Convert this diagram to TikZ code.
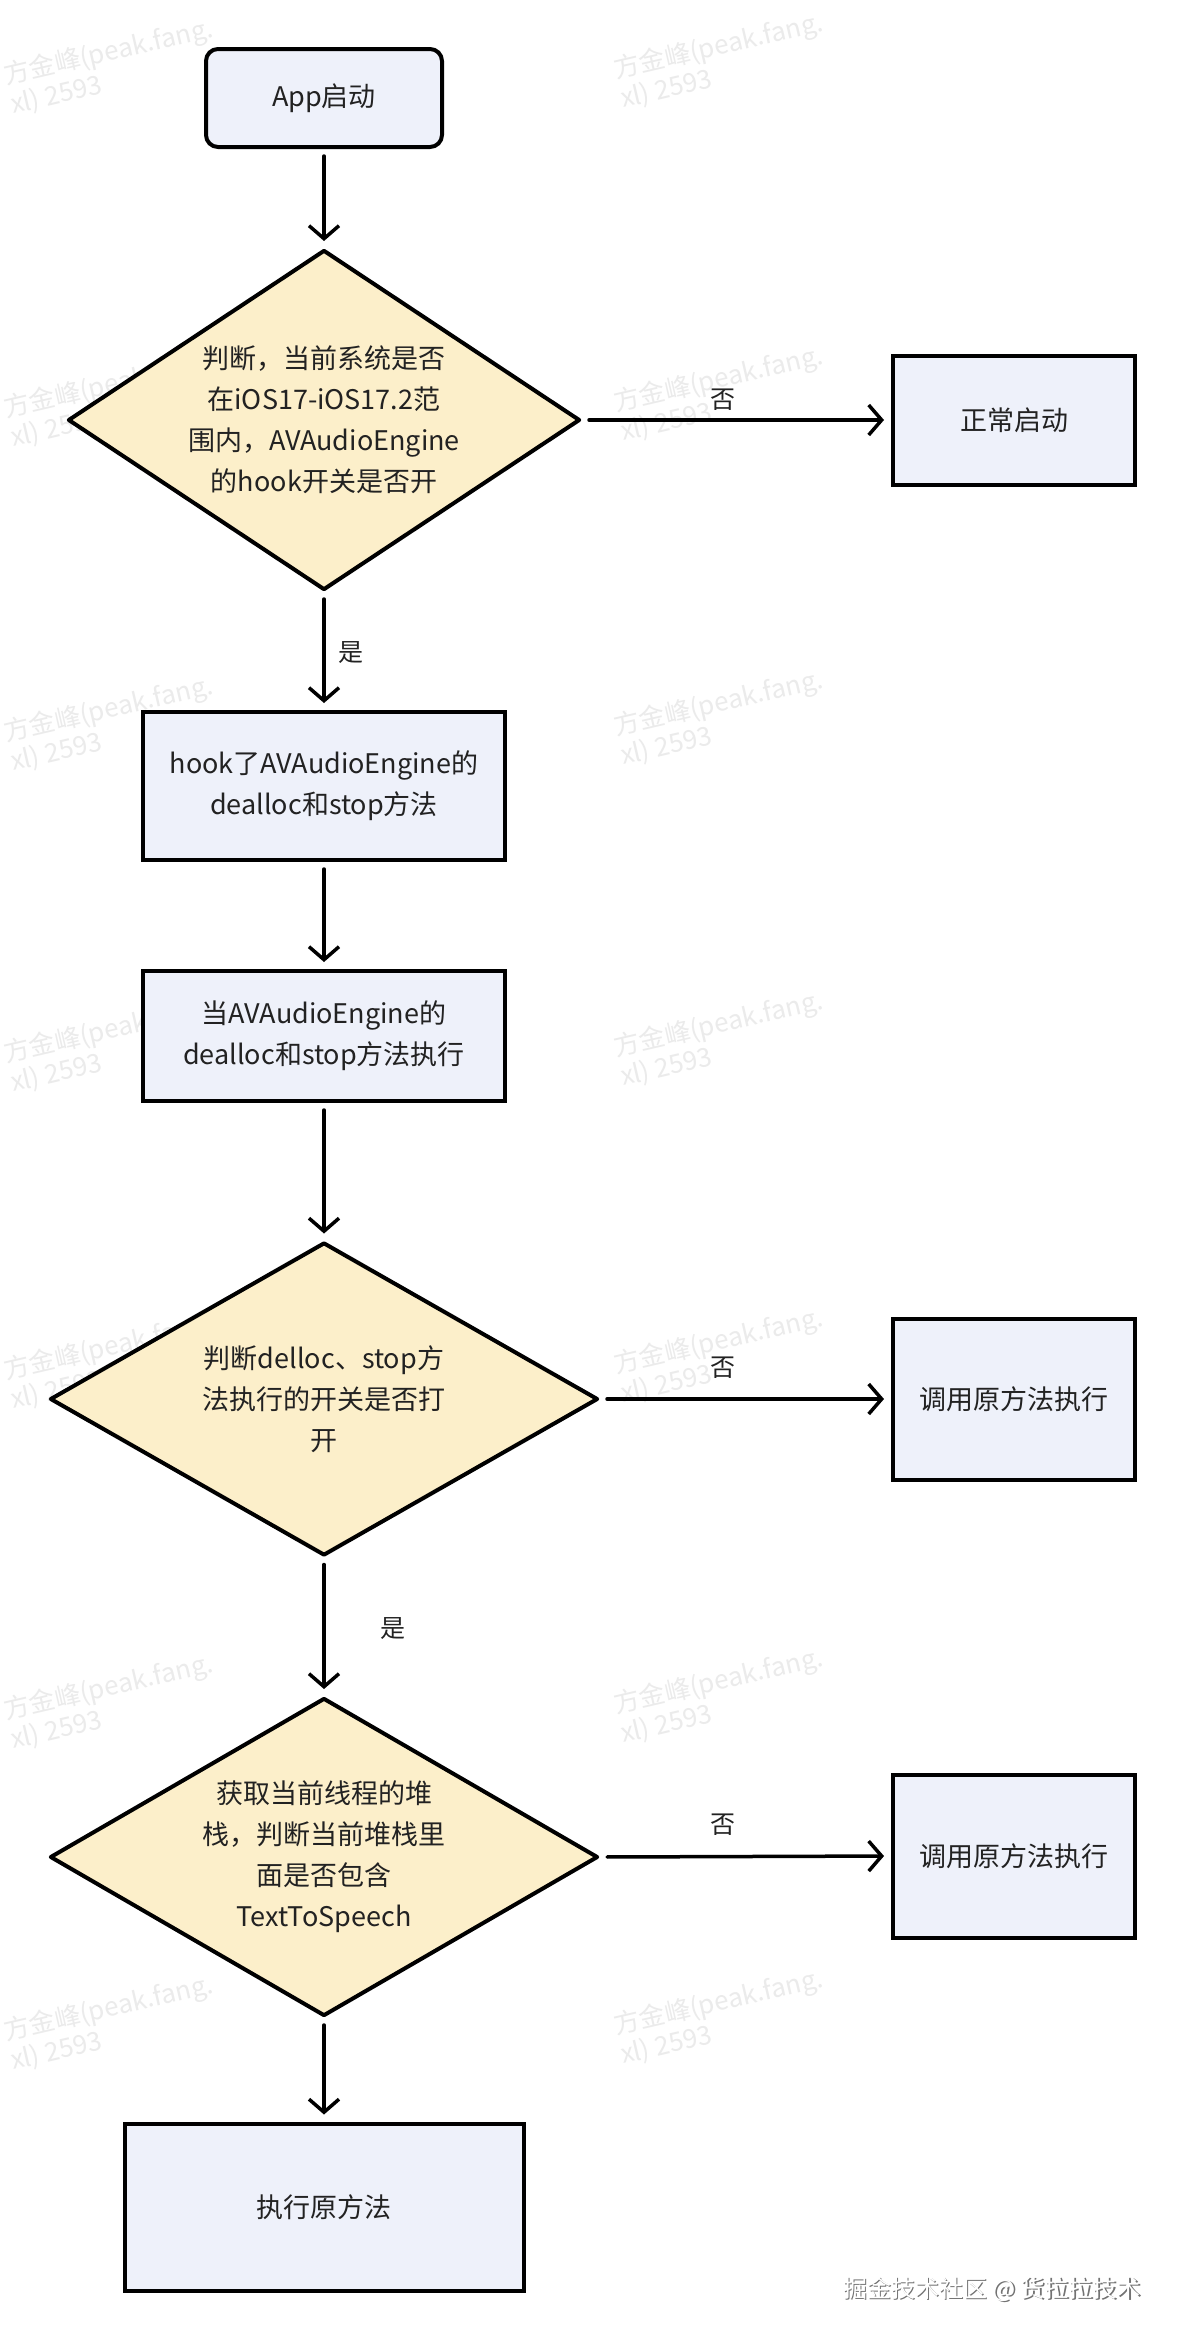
\documentclass[tikz,border=0pt]{standalone}
\usepackage{fontspec}
\setmainfont{Noto Sans CJK SC}
\newfontfamily\wmfont{Liberation Sans}
\usetikzlibrary{arrows.meta,shapes.geometric}
\definecolor{boxfill}{HTML}{EEF1FA}
\definecolor{diafill}{HTML}{FCEFCA}
\definecolor{txtcol}{HTML}{222222}
\begin{document}
\begin{tikzpicture}[x=1pt,y=-1pt,
  mainfont/.style={font=\fontsize{27pt}{41pt}\selectfont},
  box/.style={draw=black, line width=4pt, fill=boxfill, inner sep=0pt, mainfont, text=txtcol, align=center},
  dia/.style={diamond, draw=black, line width=4pt, fill=diafill, inner sep=0pt, line join=round},
  dtext/.style={mainfont, text=txtcol, align=center, inner sep=0pt},
  arr/.style={-{Straight Barb[length=13pt,width=30pt]}, line width=3.5pt, line cap=round, line join=round, shorten >=7pt, shorten <=7pt},
  lbl/.style={font=\fontsize{25pt}{30pt}\selectfont, text=txtcol, inner sep=0pt},
  wm/.style={font=\fontsize{26pt}{30pt}\selectfont, text=black!8, align=left, rotate=13, inner sep=0pt}
]
\useasboundingbox (0,0) rectangle (1184,2342);
\fill[white] (0,0) rectangle (1184,2342);

% watermarks
\foreach \yy [count=\i] in {67,400,724,1045,1362,1702,2023}{
  \node[wm] (wmL\i) at (112,\yy) {方金峰(peak.fang.\\xl) 2593};
  \node[wm] (wmR\i) at (722,\yy-6) {方金峰(peak.fang.\\xl) 2593};
}

% nodes
\node[box, rounded corners=12pt, minimum width=236pt, minimum height=98pt] (start) at (324,98) {App启动};

\node[dia, minimum width=512pt, minimum height=340pt] (d1) at (324,420) {};
\node[dtext] (d1t) at (d1.center) {判断，当前系统是否\\在iOS17-iOS17.2范\\围内，AVAudioEngine\\的hook开关是否开};

\node[box, minimum width=242pt, minimum height=129pt] (ok) at (1014,420) {正常启动};

\node[box, minimum width=362pt, minimum height=148pt] (hook) at (324,786) {hook了AVAudioEngine的\\dealloc和stop方法};

\node[box, minimum width=362pt, minimum height=130pt] (av) at (324,1036) {当AVAudioEngine的\\dealloc和stop方法执行};

\node[dia, minimum width=548pt, minimum height=313pt] (d2) at (324,1399) {};
\node[dtext] (d2t) at (d2.center) {判断delloc、stop方\\法执行的开关是否打\\开};

\node[box, minimum width=242pt, minimum height=161pt] (call1) at (1014,1399) {调用原方法执行};

\node[dia, minimum width=548pt, minimum height=318pt] (d3) at (324,1857) {};
\node[dtext] (d3t) at (d3.center) {获取当前线程的堆\\栈，判断当前堆栈里\\面是否包含\\TextToSpeech};

\node[box, minimum width=242pt, minimum height=163pt] (call2) at (1014,1856) {调用原方法执行};

\node[box, minimum width=399pt, minimum height=167pt] (exec) at (324,2207) {执行原方法};

% connectors
\draw[arr] (start.south) -- (d1.north);
\draw[arr] (d1.east) -- (ok.west);
\draw[arr] (d1.south) -- (hook.north);
\draw[arr] (hook.south) -- (av.north);
\draw[arr] (av.south) -- (d2.north);
\draw[arr] (d2.east) -- (call1.west);
\draw[arr] (d2.south) -- (d3.north);
\draw[arr] (d3.east) -- (call2.west);
\draw[arr] (d3.south) -- (exec.north);

% labels
\node[lbl] (n1) at (723,400) {否};
\node[lbl] (y1) at (351,653) {是};
\node[lbl] (n2) at (723,1368) {否};
\node[lbl] (y2) at (393,1629) {是};
\node[lbl] (n3) at (723,1825) {否};

% footer
\node[font=\fontsize{24pt}{28pt}\selectfont, text=black!55, inner sep=0pt] (fshadow) at (993.5,2290.5) {掘金技术社区 @ 货拉拉技术};
\node[font=\fontsize{24pt}{28pt}\selectfont, text=white, inner sep=0pt] (footer) at (992,2289) {掘金技术社区 @ 货拉拉技术};
\end{tikzpicture}
\end{document}
